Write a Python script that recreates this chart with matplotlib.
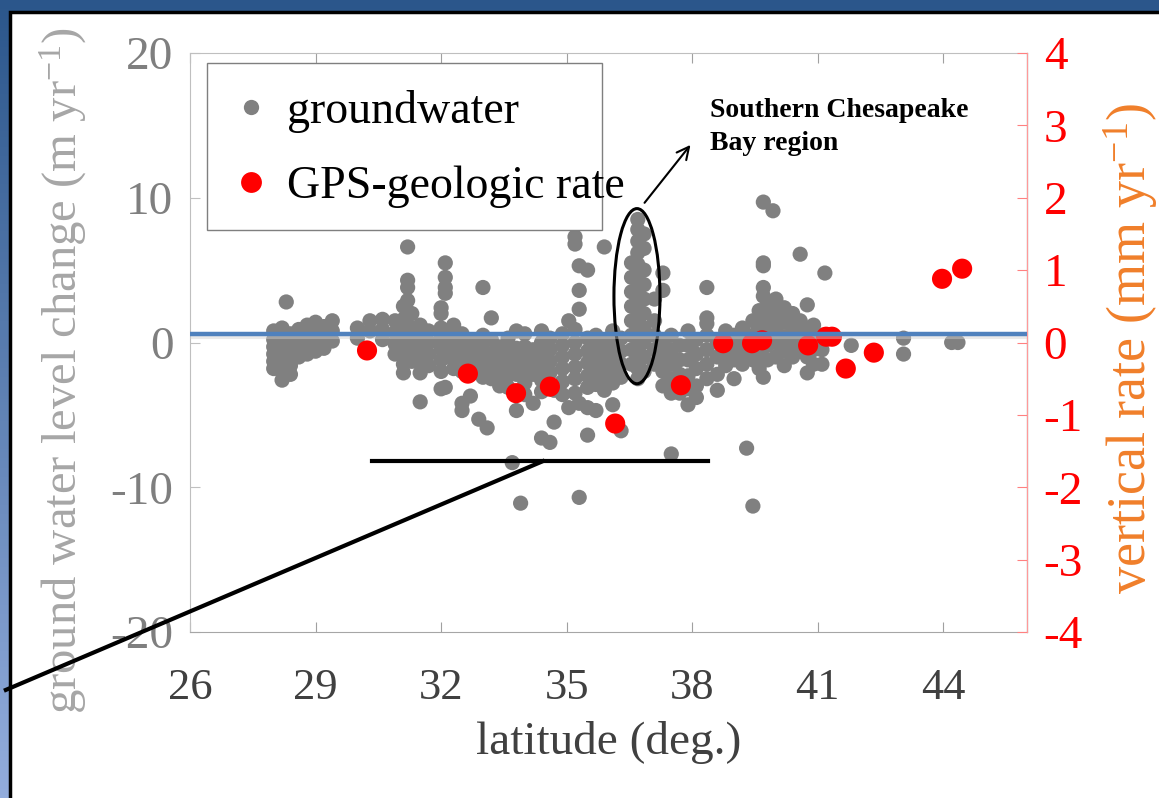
import matplotlib
matplotlib.use('Agg')
import matplotlib.pyplot as plt
from matplotlib.patches import Ellipse, Rectangle
from matplotlib.lines import Line2D
import numpy as np

plt.rcParams['font.family'] = ['Liberation Serif', 'DejaVu Serif']
plt.rcParams['axes.unicode_minus'] = False
plt.rcParams['mathtext.fontset'] = 'custom'
plt.rcParams['mathtext.rm'] = 'Liberation Serif'
plt.rcParams['mathtext.it'] = 'Liberation Serif:italic'

# groundwater level change, read column by column (latitude, values)
gw_col_lat = [28.0, 28.2, 28.3, 28.4, 28.6, 28.8, 29.0, 29.2, 29.4,
              30.0, 30.3, 30.6, 30.9, 31.1, 31.2, 31.3, 31.5, 31.7,
              32.0, 32.1, 32.3, 32.5, 32.7, 32.9, 33.0, 33.1, 33.2,
              33.4, 33.6, 33.7, 33.8, 33.9, 34.0, 34.2, 34.4, 34.6, 34.7, 34.9,
              35.05, 35.2, 35.3, 35.5, 35.7, 35.9, 36.1, 36.3,
              36.55, 36.7, 36.85,
              37.1, 37.3, 37.5, 37.7, 37.9, 38.1, 38.35, 38.6,
              38.8, 39.0, 39.2, 39.3, 39.45, 39.6, 39.7, 39.8, 39.93,
              40.0, 40.2, 40.4, 40.58, 40.75, 40.9, 41.1, 41.17,
              41.8, 43.05, 44.2, 44.35]
gw_col_chg = [
    [0.8, 0.2, -0.3, -0.8, -1.3, -1.8],
    [1.0, 0.3, -0.5, -1.2, -2.0, -2.6],
    [2.8],
    [0.6, -0.2, -1.0, -1.6, -2.2],
    [0.9, 0.2, -0.6, -1.0],
    [1.2, 0.5, -0.2, -0.8],
    [1.4, 0.7, 0.0, -0.6],
    [1.1, 0.4, -0.4],
    [1.5, 0.8, 0.1],
    [1.0, 0.3],
    [1.5, 0.8],
    [1.6, 0.9, 0.2],
    [1.5, 0.7, -0.1, -0.8],
    [2.5, 1.6, 0.8, 0.0, -0.8, -1.5, -2.1],
    [6.6, 4.3, 3.8, 2.9],
    [2.0, 1.0, 0.2, -0.6, -1.3],
    [1.2, 0.4, -0.4, -1.2, -2.1, -4.1],
    [0.8, 0.0, -0.8, -1.6],
    [2.4, 2.0, 1.0, 0.3, -0.4, -1.2, -2.0, -3.2],
    [5.5, 4.5, 3.8, 3.4, 0.7, -0.2, -1.0, -3.1],
    [1.2, 0.5, -0.3, -1.1, -1.8],
    [0.6, -0.2, -1.0, -2.0, -4.2, -4.7],
    [0.2, -0.6, -1.4, -2.2, -3.7],
    [-0.3, -1.1, -1.9, -5.3],
    [3.8, 0.5, -0.5, -1.3, -2.4],
    [-0.9, -5.9],
    [1.7, 0.2, -0.8, -1.6, -2.5],
    [-0.3, -1.2, -2.0, -3.0],
    [0.3, -0.6, -1.5, -2.3, -3.1],
    [-8.3],
    [0.8, -0.4, -1.3, -2.2, -4.7],
    [-11.1],
    [0.6, -0.3, -1.0, -1.9, -2.8, -3.6],
    [-0.5, -1.4, -2.2, -4.2],
    [0.8, 0.0, -0.9, -1.7, -2.6, -3.4, -6.6],
    [0.3, -0.5, -1.3, -2.1, -6.9],
    [-3.3, -5.5],
    [0.6, -0.2, -1.0, -1.8, -2.7, -3.6],
    [1.5, -4.5],
    [7.3, 6.8, 0.9, 0.0, -0.8, -1.7, -2.5, -3.5],
    [5.3, 3.6, 2.3, -4.2, -10.7],
    [5.0, 0.3, -0.6, -1.4, -2.3, -3.1, -4.5, -6.4],
    [0.5, -0.3, -1.2, -2.0, -2.9, -4.7],
    [6.6, 0.0, -0.8, -1.6, -2.5, -3.3],
    [0.8, -0.2, -1.0, -1.9, -2.8, -4.3],
    [0.3, -0.6, -1.5, -2.4, -6.1],
    [5.5, 4.5, 3.5, 2.5, 1.5, 0.5, -0.5, -1.5],
    [8.5, 7.8, 7.0, 6.2, 5.4, 4.6, 3.8, 3.0, 2.2, 1.4, 0.6, -0.2, -1.0, -1.8, -2.5],
    [7.5, 6.5, 5.0, 4.0, 3.0, 2.0, 1.0, 0.0, -1.0, -2.0],
    [3.0, 1.5, 0.5, -0.5, -1.5],
    [4.8, 3.6, 0.0, -1.0, -2.0, -3.0],
    [0.5, -0.5, -1.5, -2.5, -3.5, -7.7],
    [-0.2, -1.2, -2.2, -3.5],
    [0.8, -0.2, -1.2, -2.3, -3.2, -4.3],
    [0.2, -0.8, -1.8, -3.0, -3.8],
    [3.8, 1.7, 1.3, 0.5, -0.5, -1.5, -2.5],
    [0.0, -1.0, -2.2, -3.3],
    [0.8, 0.0, -0.8, -1.6],
    [0.5, -0.4, -1.2, -2.5],
    [1.0, 0.2, -0.6, -1.5],
    [-7.3],
    [1.5, 0.5, -0.5, -1.2, -11.3],
    [2.2, 1.2, 0.3, -0.8, -1.8],
    [9.7, 5.5, 5.3, 3.8, 3.2, -2.4],
    [2.8, 1.8, 0.8, -0.2, -1.2],
    [9.1, 2.5, 1.5, 0.5],
    [3.0, 2.0, 1.0, 0.0, -1.0],
    [2.4, 1.4, 0.4, -0.6, -1.6],
    [2.0, 1.0, 0.0, -1.0],
    [6.1, 1.5, 0.5, -0.5],
    [2.6, 1.0, 0.0, -1.0, -2.1],
    [1.2, 0.3, -0.5, -1.5],
    [0.5, -0.5, -1.5],
    [4.8],
    [-0.2],
    [0.3, -0.8],
    [0.0],
    [0.0],
]

# GPS-geologic vertical rates (mm/yr)
gps_lat = [30.23, 32.64, 33.79, 34.60, 36.16, 37.73, 38.74, 39.43, 39.67,
           40.77, 41.20, 41.34, 41.67, 42.34, 43.97, 44.45]
gps_rate = [-0.11, -0.43, -0.70, -0.61, -1.12, -0.59, -0.01, -0.01, 0.03,
            -0.04, 0.08, 0.08, -0.36, -0.14, 0.88, 1.02]

ref_rate = 0.12   # blue reference line (mm/yr)

x_ticks = [26, 29, 32, 35, 38, 41, 44]
gw_ticks = [-20, -10, 0, 10, 20]
rate_ticks = [-4, -3, -2, -1, 0, 1, 2, 3, 4]

gw_lat, gw_chg = [], []
for lat, vals in zip(gw_col_lat, gw_col_chg):
    gw_lat += [lat] * len(vals)
    gw_chg += vals

W, H = 1159, 798
fig = plt.figure(figsize=(W / 100, H / 100), dpi=100)

# blue slide frame with white panel
bg = fig.add_axes([0, 0, 1, 1])
bg.set_zorder(-5)
grad = np.linspace(0, 1, 256).reshape(-1, 1)
top_c = np.array([0x2B, 0x56, 0x8B]) / 255
bot_c = np.array([0x93, 0xAD, 0xDD]) / 255
img = top_c + (bot_c - top_c) * grad[..., None]
bg.imshow(img, extent=[0, 1, 0, 1], aspect='auto', origin='upper')
bg.add_patch(Rectangle((10 / W, -0.05), 1.2, 0.05 + 1 - 12 / H,
                       facecolor='white', edgecolor='black', lw=2.5))
bg.set_xlim(0, 1)
bg.set_ylim(0, 1)
bg.axis('off')

ax = fig.add_axes([190 / W, 1 - 632 / H, (1027 - 190) / W, (632 - 53) / H])
ax.scatter(gw_lat, gw_chg, s=120, color='#808080', edgecolors='none', zorder=2)
ax.set_xlim(26, 46)
ax.set_ylim(-20, 20)
ax.set_xticks(x_ticks)
ax.set_yticks(gw_ticks)
ax.tick_params(axis='x', direction='in', length=7, color='#A0A0A0',
               labelsize=32, labelcolor='#404040', top=True, pad=26)
ax.tick_params(axis='y', direction='in', length=7, color='#C0C0C0',
               labelsize=34, labelcolor='#7F7F7F', pad=12)
for side in ['left', 'top']:
    ax.spines[side].set_color('#BFBFBF')
ax.spines['bottom'].set_color('#A6A6A6')
ax.set_xlabel('latitude (deg.)', fontsize=34, color='#404040', labelpad=9)
ax.set_ylabel('ground water level change (m yr$^{-1}$)', fontsize=35,
              color='#A6A6A6', va='center', ha='center')
ax.yaxis.set_label_coords(-0.152, 0.452)

ax2 = ax.twinx()
ax2.scatter(gps_lat, gps_rate, s=210, color='#FF0000', edgecolors='none', zorder=3)
ax2.axhline(ref_rate - 0.05, color='#D0D0D0', lw=3, alpha=0.45, zorder=3.5)
ax2.axhline(ref_rate, color='#4F81BD', lw=3.2, zorder=4)
ax2.set_ylim(-4, 4)
ax2.set_yticks(rate_ticks)
ax2.tick_params(axis='y', direction='in', length=7, color='#FF8080',
                labelsize=34, labelcolor='#FF0000', pad=12)
ax2.spines['right'].set_color('#FF9999')
ax2.spines['left'].set_visible(False)
ax2.spines['top'].set_visible(False)
ax2.spines['bottom'].set_visible(False)
ax2.set_ylabel('vertical rate (mm yr$^{-1}$)', fontsize=39, color='#F07F2A',
               va='center', ha='center')
ax2.yaxis.set_label_coords(1.124, 0.49)

# annotations
ax.add_patch(Ellipse((36.68, 3.2), 1.1, 12.1, fill=False, edgecolor='black',
                     lw=2.2, zorder=6))
ax.annotate('', xy=(38.0, 13.8), xytext=(36.82, 9.5),
            arrowprops=dict(arrowstyle='->', color='black', lw=1.5,
                            mutation_scale=22), zorder=6)
ax.text(38.43, 16.9, 'Southern Chesapeake\nBay region', fontsize=20,
        fontweight='bold', va='top', ha='left', linespacing=1.45, zorder=6)
ax.plot([30.35, 38.38], [-8.2, -8.2], color='black', lw=3, zorder=6,
        clip_on=False)
ax.plot([34.43, 21.6], [-8.2, -24.0], color='black', lw=3, zorder=6,
        clip_on=False)

# legend
fig.patches.append(Rectangle((207 / W, 1 - 230 / H), (602 - 207) / W,
                             (230 - 63) / H, transform=fig.transFigure,
                             facecolor='white', edgecolor='#7F7F7F', lw=1,
                             zorder=5))
handles = [Line2D([], [], ls='none', marker='o', ms=11, color='#808080',
                  markeredgewidth=0),
           Line2D([], [], ls='none', marker='o', ms=15, color='#FF0000',
                  markeredgewidth=0)]
leg = fig.legend(handles, ['groundwater', 'GPS-geologic rate'],
                 loc='center left', bbox_to_anchor=(214 / W, 1 - 149 / H),
                 frameon=False, fontsize=33, borderpad=0, handlelength=0.6,
                 handletextpad=0.5, labelspacing=0.72)
leg.set_zorder(7)

fig.savefig('out.png', dpi=100)
